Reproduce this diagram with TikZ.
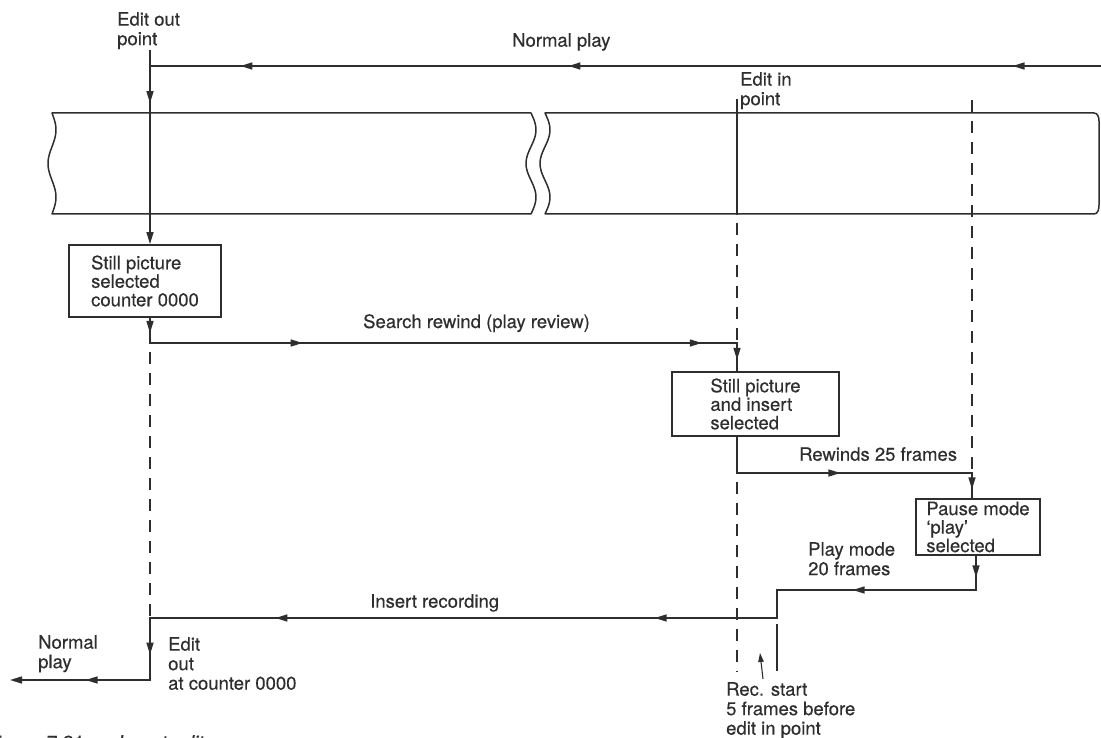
\documentclass[tikz,border=0pt]{standalone}
\usepackage{fontspec}
\setmainfont{TeX Gyre Heros}[FakeBold=0.35]
\usetikzlibrary{arrows.meta, positioning, decorations.markings, calc}
\definecolor{ink}{HTML}{2E2E2E}

\begin{document}
\begin{tikzpicture}[
    x=1pt, y=-1pt,
    color=ink,
    >={Triangle[length=12pt,width=7pt]},
    lbl/.style={anchor=north west, inner sep=0pt, align=left, font=\fontsize{18.5}{19.5}\selectfont},
    statebox/.style={draw, line width=1.8pt, align=left, inner ysep=2pt, font=\fontsize{18.5}{18.5}\selectfont},
    flow/.style={draw, line width=1.5pt, line cap=rect},
    guide/.style={draw, line width=1.3pt, dash pattern=on 12pt off 9pt, dash phase=12pt},
    tape/.style={draw, line width=1.5pt, line join=round},
    pointer/.style={draw, line width=1.1pt, -{Triangle[length=9pt,width=5.5pt]}},
    tipat/.style={postaction={decorate, decoration={markings, mark=at position #1 with {\arrow{>}}}}}
]
\useasboundingbox (0,0) rectangle (1101,738);
\clip (0,0) rectangle (1101,738);

% tape, broken in the middle
\draw[tape] (531,113) -- (52,113)
    -- plot[domain=113:214, variable=\t, samples=40, smooth] ({52+4*sin(5.3465*(\t-113))}, \t)
    -- (531,214)
    -- plot[domain=214:113, variable=\t, samples=40, smooth] ({531+5*sin(5.3465*(\t-113))}, \t) -- cycle;
\draw[tape] (545,113) -- (1094,113) to[out=0,in=90] (1099,121) -- (1099,205) to[out=-90,in=0] (1094,214)
    -- (545,214)
    -- plot[domain=214:113, variable=\t, samples=40, smooth] ({545+5*sin(5.3465*(\t-113))}, \t) -- cycle;

% boxes
\node[statebox, minimum width=152pt, minimum height=72pt] (still1) at (145,281) {Still picture\\selected\\counter 0000};
\node[statebox, minimum width=167pt, minimum height=64pt] (still2) at (755.5,404) {Still picture\\and insert\\selected};
\node[statebox, minimum width=124pt, minimum height=56pt] (pause) at (978,527) {Pause mode\\`play'\\selected};

% labels
\node[lbl] (eoLbl) at (117,12) {Edit out\\point};
\node[lbl] (npLbl) at (512,33) {Normal play};
\node[lbl] (eiLbl) at (740,72) {Edit in\\point};
\node[lbl] (srLbl) at (363,314) {Search rewind (play review)};
\node[lbl] (rwLbl) at (799,447) {Rewinds 25 frames};
\node[lbl] (pmLbl) at (808,542) {Play mode\\20 frames};
\node[lbl] (irLbl) at (370,594) {Insert recording};
\node[lbl] (npLbl2) at (38,635) {Normal\\play};
\node[lbl] (eoLbl2) at (168,637) {Edit\\out\\at counter 0000};
\node[lbl] (rsLbl) at (726,682) {Rec. start\\5 frames before\\edit in point};
\node[anchor=north west, inner sep=0pt, font=\fontsize{19.5}{20}\selectfont] (caption) at (-14,735) {Figure 7.21\hspace{33pt}\textit{Insert edit}};

% path points
\coordinate (eoTop) at (150,51);
\coordinate (npR) at (1101,66);
\coordinate (npL) at (150,66);
\coordinate (eiTop) at (737,100);
\coordinate (eiTape) at (737,214);
\coordinate (srL) at (150,343);
\coordinate (srR) at (737,343);
\coordinate (rwL) at (737,473);
\coordinate (rwR) at (972,473);
\coordinate (plTop) at (972,100);
\coordinate (pmR) at (976,590);
\coordinate (pmL) at (777,590);
\coordinate (irR) at (777,618);
\coordinate (irL) at (150,618);
\coordinate (eoB) at (150,680);
\coordinate (npEnd) at (10,680);
\coordinate (eiEnd) at (737,672);
\coordinate (rsTop) at (777,625);
\coordinate (rsBot) at (777,670);
\coordinate (rsTail) at (763,679);
\coordinate (rsTip) at (760,653);

% guide lines
\draw[flow] (eiTop) -- (eiTape);
\draw[guide] (eiTape) -- (srR);
\draw[guide] (rwL) -- (eiEnd);
\draw[guide] (srL) -- (irL);
\draw[guide, dash phase=0pt] (plTop) -- (rwR);

% flow
\draw[flow, tipat=0.093, tipat=0.56, tipat=0.905] (npR) -- (npL);
\draw[flow, tipat=0.27, ->] (eoTop) -- (still1.north -| eoTop);
\draw[flow, tipat=0.6] (still1.south -| srL) -- (srL);
\draw[flow, tipat=0.26, tipat=0.94] (srL) -- (srR);
\draw[flow, tipat=0.6] (srR) -- (srR |- still2.north);
\draw[flow] (rwL |- still2.south) -- (rwL);
\draw[flow, tipat=0.44] (rwL) -- (rwR);
\draw[flow, tipat=0.65] (rwR) -- (rwR |- pause.north);
\draw[flow, tipat=0.63] (pmR |- pause.south) -- (pmR);
\draw[flow, tipat=0.62] (pmR) -- (pmL);
\draw[flow] (pmL) -- (irR);
\draw[flow, tipat=0.195, tipat=0.8] (irR) -- (irL);
\draw[flow, tipat=0.59] (irL) -- (eoB);
\draw[flow, tipat=0.46, ->] (eoB) -- (npEnd);
\draw[flow] (rsTop) -- (rsBot);
\draw[pointer] (rsTail) -- (rsTip);

\end{tikzpicture}
\end{document}
